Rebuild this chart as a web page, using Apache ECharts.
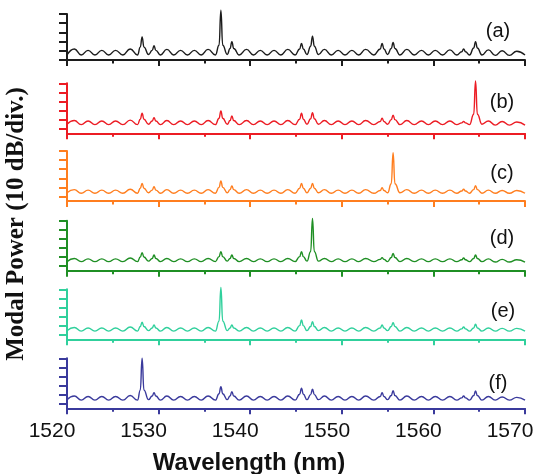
<!DOCTYPE html>
<html><head><meta charset="utf-8">
<script src="https://cdn.jsdelivr.net/npm/echarts@6/dist/echarts.min.js"></script>
<style>html,body{margin:0;padding:0;background:#fff}#c{width:539px;height:474px}</style>
</head><body><div id="c"></div>
<script>
// Wavelength sample positions (nm), read at ripple peaks/troughs and around the mode peaks
const wavelengths = [
 1520.0, 1520.8, 1521.55, 1522.3, 1523.05, 1523.8, 1524.55, 1525.3, 1526.1, 1526.9, 1527.7,
 1528.0, 1528.2, 1528.4, 1528.9,
 1529.3, 1529.5, 1529.7, 1530.2,
 1530.9, 1531.65, 1532.4, 1533.15, 1533.9, 1534.65, 1535.4, 1536.2,
 1536.6, 1536.8, 1537.0, 1537.5,
 1537.8, 1538.0, 1538.2, 1538.8,
 1539.6, 1540.35, 1541.1, 1541.85, 1542.6, 1543.35, 1544.1, 1544.9,
 1545.4, 1545.6, 1545.8, 1546.2,
 1546.6, 1546.8, 1547.0, 1547.45,
 1548.1, 1548.85, 1549.6, 1550.35, 1551.1, 1551.85, 1552.6, 1553.5,
 1554.2, 1554.4, 1554.6, 1555.0,
 1555.4, 1555.6, 1555.8, 1556.35,
 1557.1, 1557.9, 1558.7, 1559.45, 1560.2, 1561.0, 1561.8, 1562.55,
 1563.1, 1563.3, 1563.5, 1563.95,
 1564.4, 1564.6, 1564.8, 1565.3,
 1566.0, 1566.75, 1567.5, 1568.3, 1569.1, 1570.0
];
// Modal power (dB, relative) per panel
const powerA = [5.5, 12, 5.5, 10.5, 5.5, 10.5, 5.5, 10.5, 5.5, 12, 5.5,
 14, 25, 14, 6,
 10.5, 15.5, 10.5, 5.5,
 11.5, 5.5, 10.5, 5.5, 10.5, 5.5, 11.5, 5.5,
 16, 54, 16, 6,
 12.5, 20, 12.5, 5.5,
 11.5, 5.5, 10.5, 5.5, 10.5, 5.5, 11.5, 5.5,
 12, 18, 12, 6,
 15, 26, 15, 6,
 11.5, 5.5, 10.5, 5.5, 10.5, 5.5, 11.5, 5.5,
 12, 18, 12, 6,
 12.5, 19, 12.5, 5.5,
 11.5, 5.5, 10.5, 5.5, 10.5, 5.5, 11, 5.5,
 9, 12, 9, 5.5,
 13, 20, 13, 5.5,
 11, 5, 10, 5, 9.5, 5.5];
const powerB = [5, 9, 4.5, 8.5, 4.5, 8.5, 4.5, 8.5, 4.5, 9.5, 4.5,
 10.5, 17, 10.5, 5,
 8.5, 12.2, 8.5, 4.5,
 9, 4.5, 8.5, 4.5, 8.5, 4.5, 9, 4.5,
 11.5, 19.5, 11.5, 5,
 9, 14, 9, 4.5,
 9, 4.5, 8.5, 4.5, 8.5, 4.5, 9, 4.5,
 10.5, 17, 10.5, 5,
 11, 17.7, 11, 5,
 9, 4.5, 8.5, 4.5, 8.5, 4.5, 9, 4.5,
 8, 11.5, 8, 5,
 10, 15, 10, 4.5,
 9, 4.5, 8.5, 4.5, 8.5, 4.5, 8.5, 4.5,
 6.5, 8, 6.5, 4.5,
 16, 52.5, 16, 5,
 8.5, 4, 8, 4, 7.5, 4];
const powerC = [4, 7.5, 3.5, 7, 3.5, 7, 3.5, 7, 3.5, 8, 3.5,
 9, 14.4, 9, 4,
 7, 10.7, 7, 3.5,
 7.5, 3.5, 7, 3.5, 7, 3.5, 7.5, 3.5,
 10, 17, 10, 4,
 7.5, 11.5, 7.5, 3.5,
 7.5, 3.5, 7, 3.5, 7, 3.5, 7.5, 3.5,
 9, 14.4, 9, 4,
 9, 14.4, 9, 4,
 7.5, 3.5, 7, 3.5, 7, 3.5, 7.5, 3.5,
 6.5, 9.6, 6.5, 4,
 14, 48, 14, 4,
 7.5, 3.5, 7, 3.5, 7, 3.5, 7, 3.5,
 6, 8, 6, 3.5,
 7.5, 11.9, 7.5, 3.5,
 7, 3.5, 6.5, 3.5, 6.5, 3.5];
const powerD = [5, 8.5, 5, 8, 5, 8, 5, 8, 5, 9, 5,
 10, 14.8, 10, 5.5,
 8.5, 12.2, 8.5, 5,
 8.5, 5, 8, 5, 8, 5, 8.5, 5,
 10.5, 15.9, 10.5, 5.5,
 8.5, 12.2, 8.5, 5,
 8.5, 5, 8, 5, 8, 5, 8.5, 5,
 10.5, 15.9, 10.5, 5.5,
 16, 52.5, 16, 5.5,
 8.5, 5, 8, 5, 8, 5, 8.5, 5,
 7.5, 9.3, 7.5, 5,
 9.5, 14, 9.5, 5,
 8.5, 5, 8, 5, 8, 5, 8, 5,
 7, 9, 7, 5,
 8.5, 12.2, 8.5, 5,
 8, 4.5, 7.5, 4.5, 7, 4.5];
const powerE = [4.5, 8, 4, 7.5, 4, 7.5, 4, 7.5, 4, 8.5, 4,
 9, 13.7, 9, 4.5,
 7.5, 10.7, 7.5, 4,
 8, 4, 7.5, 4, 7.5, 4, 8, 4,
 15, 52, 15, 4.5,
 7.5, 10.7, 7.5, 4,
 8, 4, 7.5, 4, 7.5, 4, 8, 4,
 10, 16.2, 10, 4.5,
 9, 14.4, 9, 4.5,
 8, 4, 7.5, 4, 7.5, 4, 8, 4,
 7.5, 10.7, 7.5, 4.5,
 9, 13.3, 9, 4,
 8, 4, 7.5, 4, 7.5, 4, 7.5, 4,
 6.5, 8.5, 6.5, 4,
 7.5, 11.5, 7.5, 4,
 7.5, 4, 7, 4, 7, 4];
const powerF = [4.5, 8.5, 4, 8, 4, 8, 4, 8, 4, 9, 4,
 15, 50, 15, 4.5,
 8.5, 12.2, 8.5, 4,
 8.5, 4, 8, 4, 8, 4, 8.5, 4,
 11, 18.8, 11, 4.5,
 8.5, 13.3, 8.5, 4,
 8.5, 4, 8, 4, 8, 4, 8.5, 4,
 10.5, 17, 10.5, 4.5,
 10, 15.9, 10, 4.5,
 8.5, 4, 8, 4, 8, 4, 8.5, 4,
 8, 12.2, 8, 4.5,
 9, 14.4, 9, 4,
 8.5, 4, 8, 4, 8, 4, 8, 4,
 6.5, 8.5, 6.5, 4,
 9, 14, 9, 4,
 8, 4, 7.5, 4, 7, 4];
const panelLabels = ['(a)', '(b)', '(c)', '(d)', '(e)', '(f)'];
const xTickLabels = [1520, 1530, 1540, 1550, 1560, 1570];
const yTicks = [0, 10, 20, 30, 40, 50];

const panels = [powerA, powerB, powerC, powerD, powerE, powerF];
const colors = ['#1c1c1c', '#ec1c24', '#ff7e1f', '#1f8f24', '#30d09c', '#3a3a9c'];
const bottoms = [60, 133.3, 201, 270.7, 339.3, 408.3];
const heights = [46, 50, 50, 50, 50, 50];
const yMins = [0, -5, -5, -5, -5, -5];
const labelPos = [[498, 31], [502, 102], [502, 173], [502, 238], [503, 311], [498, 383]];

const grids = [], xAxes = [], yAxes = [], series = [], graphics = [];
panels.forEach((vals, i) => {
  const c = colors[i];
  grids.push({left: 67, width: 458, top: bottoms[i] - heights[i], height: heights[i],
    containLabel: false, outerBoundsMode: 'none'});
  const last = i === panels.length - 1;
  xAxes.push({
    type: 'value', gridIndex: i, min: 1520, max: 1570, interval: 10,
    axisLine: {show: true, onZero: false, lineStyle: {color: c, width: 2}},
    axisTick: {show: true, length: 6, lineStyle: {color: c, width: 2}},
    minorTick: {show: true, splitNumber: 2, length: 3.5, lineStyle: {color: c, width: 2}},
    splitLine: {show: false}, minorSplitLine: {show: false},
    axisLabel: {show: last, margin: 12, fontSize: 21, color: '#111', fontFamily: 'Liberation Sans',
      customValues: xTickLabels, formatter: v => String(v), hideOverlap: false,
      padding: [0, 30, 0, 0]}
  });
  yAxes.push({
    type: 'value', gridIndex: i, min: yMins[i], max: 50,
    axisLine: {show: true, lineStyle: {color: c, width: 2}},
    axisTick: {show: true, length: 8, customValues: yTicks, lineStyle: {color: c, width: 2}},
    axisLabel: {show: false}, splitLine: {show: false}
  });
  series.push({
    type: 'line', xAxisIndex: i, yAxisIndex: i, clip: false,
    data: wavelengths.map((w, k) => [w, vals[k]]),
    showSymbol: false, smooth: 0.5, smoothMonotone: 'x',
    lineStyle: {color: c, width: 1.4}, silent: true
  });
  graphics.push({type: 'text', x: labelPos[i][0], y: labelPos[i][1],
    style: {text: panelLabels[i], fontSize: 20, fill: '#111', fontFamily: 'Liberation Sans',
      align: 'center', verticalAlign: 'middle'}});
});
graphics.push({type: 'text', x: 17, y: 224, rotation: Math.PI / 2,
  style: {text: 'Modal Power (10 dB/div.)', fontSize: 25, fontWeight: 'bold', fill: '#111',
    fontFamily: 'Liberation Serif', align: 'center', verticalAlign: 'middle'}});
graphics.push({type: 'text', x: 249, y: 463,
  style: {text: 'Wavelength (nm)', fontSize: 24, fontWeight: 'bold', fill: '#111',
    fontFamily: 'Liberation Sans', align: 'center', verticalAlign: 'middle'}});

const chart = echarts.init(document.getElementById('c'), null, {renderer: 'canvas'});
chart.setOption({
  animation: false,
  grid: grids, xAxis: xAxes, yAxis: yAxes, series: series, graphic: graphics
});
</script></body></html>
